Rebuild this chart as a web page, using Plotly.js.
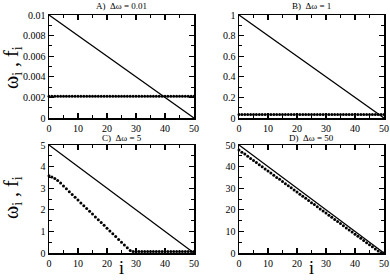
<!DOCTYPE html>
<html><head><meta charset="utf-8">
<script src="https://cdn.plot.ly/plotly-3.0.1.min.js"></script>
<style>html,body{margin:0;padding:0;background:#fff}#g{width:390px;height:280px}</style>
</head><body><div id="g"></div>
<script>
var idx = [0,1,2,3,4,5,6,7,8,9,10,11,12,13,14,15,16,17,18,19,20,21,22,23,24,25,26,27,28,29,30,31,32,33,34,35,36,37,38,39,40,41,42,43,44,45,46,47,48,49,50];
var lineX = [0, 50];
var omegaA = [0.01, 0];
var omegaB = [1, 0];
var omegaC = [5, 0];
var omegaD = [50, 0];
var fA = [0.0021,0.0021,0.0021,0.0021,0.0021,0.0021,0.0021,0.0021,0.0021,0.0021,0.0021,0.0021,0.0021,0.0021,0.0021,0.0021,0.0021,0.0021,0.0021,0.0021,0.0021,0.0021,0.0021,0.0021,0.0021,0.0021,0.0021,0.0021,0.0021,0.0021,0.0021,0.0021,0.0021,0.0021,0.0021,0.0021,0.0021,0.0021,0.0021,0.0021,0.0021,0.0021,0.0021,0.0021,0.0021,0.0021,0.0021,0.0021,0.0021,0.0021,0.0021];
var fB = [0.035,0.035,0.035,0.035,0.035,0.035,0.035,0.035,0.035,0.035,0.035,0.035,0.035,0.035,0.035,0.035,0.035,0.035,0.035,0.035,0.035,0.035,0.035,0.035,0.035,0.035,0.035,0.035,0.035,0.035,0.035,0.035,0.035,0.035,0.035,0.035,0.035,0.035,0.035,0.035,0.035,0.035,0.035,0.035,0.035,0.035,0.035,0.035,0.035,0.035,0.035];
var fC = [3.58,3.52,3.45,3.36,3.24,3.1,2.97,2.84,2.71,2.58,2.45,2.32,2.19,2.06,1.93,1.8,1.67,1.54,1.41,1.28,1.15,1.02,0.89,0.76,0.63,0.5,0.37,0.24,0.12,0.07,0.07,0.07,0.07,0.07,0.07,0.07,0.07,0.07,0.07,0.07,0.07,0.07,0.07,0.07,0.07,0.07,0.07,0.07,0.07,0.07,0.07];
var fD = [47.7,46.7,45.8,44.8,43.8,42.8,41.9,40.9,39.9,38.9,38.0,37.0,36.0,35.0,34.1,33.1,32.1,31.1,30.2,29.2,28.2,27.2,26.3,25.3,24.3,23.3,22.4,21.4,20.4,19.4,18.5,17.5,16.5,15.5,14.6,13.6,12.6,11.6,10.7,9.7,8.7,7.7,6.8,5.8,4.8,3.8,2.9,1.9,0.9,0.1,0.0];
var panelTitles = ["A)  Δω = 0.01", "B)  Δω = 1", "C)  Δω = 5", "D)  Δω = 50"];
var xTitle = "i";
var yTitle = "ω<sub>i</sub> , f<sub>i</sub>";

var omegas = [omegaA, omegaB, omegaC, omegaD];
var fs = [fA, fB, fC, fD];
var yRanges = [[0,0.01],[0,1],[0,5],[0,50]];
var yD = [0.002, 0.2, 1, 10];
var traces = [];
for (var k = 0; k < 4; k++) {
  var xa = k === 0 ? 'x' : 'x' + (k+1);
  var ya = k === 0 ? 'y' : 'y' + (k+1);
  traces.push({x: lineX, y: omegas[k], xaxis: xa, yaxis: ya, mode: 'lines',
    line: {color: '#000', width: 1.3}, showlegend: false, hoverinfo: 'skip', cliponaxis: false});
  traces.push({x: idx, y: fs[k], xaxis: xa, yaxis: ya, mode: 'markers',
    marker: {color: '#000', size: 3}, showlegend: false, hoverinfo: 'skip', cliponaxis: false});
}
var font = {family: 'Liberation Serif, Times New Roman, serif', size: 10, color: '#000'};
function xax(dom, anchor) {
  return {domain: dom, anchor: anchor, range: [0,50], dtick: 10, tick0: 0,
    ticks: 'inside', ticklen: 5, tickwidth: 1.2, tickcolor: '#000',
    minor: {dtick: 5, ticks: 'inside', ticklen: 3, tickwidth: 1, tickcolor: '#000'},
    showline: true, linecolor: '#000', linewidth: 1.5, mirror: 'allticks',
    showgrid: false, zeroline: false, tickfont: font, fixedrange: true};
}
function yax(dom, anchor, k) {
  return {domain: dom, anchor: anchor, range: yRanges[k], dtick: yD[k], tick0: 0,
    ticks: 'inside', ticklen: 5, tickwidth: 1.2, tickcolor: '#000',
    minor: {dtick: yD[k]/2, ticks: 'inside', ticklen: 3, tickwidth: 1, tickcolor: '#000'},
    showline: true, linecolor: '#000', linewidth: 1.5, mirror: 'allticks',
    showgrid: false, zeroline: false, tickfont: font, fixedrange: true};
}
var dxL = [49/390, 194/390], dxR = [239/390, 384/390];
var dyT = [1-118/280, 1-15/280], dyB = [1-253/280, 1-145/280];
var ann = [];
var tpos = [[121.5, 6], [311.5, 6], [121.5, 138], [311.5, 138]];
for (var k = 0; k < 4; k++) {
  ann.push({text: panelTitles[k], xref: 'paper', yref: 'paper', x: tpos[k][0]/390, y: 1 - tpos[k][1]/280,
    xanchor: 'center', yanchor: 'middle', showarrow: false, font: {family: font.family, size: 9, color: '#000'}});
}
ann.push({text: yTitle, xref: 'paper', yref: 'paper', x: 12/390, y: 1-68/280, textangle: -90,
  xanchor: 'center', yanchor: 'middle', showarrow: false, font: {family: font.family, size: 20, color: '#000'}});
ann.push({text: yTitle, xref: 'paper', yref: 'paper', x: 12/390, y: 1-198/280, textangle: -90,
  xanchor: 'center', yanchor: 'middle', showarrow: false, font: {family: font.family, size: 20, color: '#000'}});
ann.push({text: xTitle, xref: 'paper', yref: 'paper', x: 121.5/390, y: 1-268/280,
  xanchor: 'center', yanchor: 'middle', showarrow: false, font: {family: font.family, size: 18, color: '#000'}});
ann.push({text: xTitle, xref: 'paper', yref: 'paper', x: 311.5/390, y: 1-268/280,
  xanchor: 'center', yanchor: 'middle', showarrow: false, font: {family: font.family, size: 18, color: '#000'}});

var layout = {
  width: 390, height: 280, margin: {l: 0, r: 0, t: 0, b: 0},
  paper_bgcolor: '#fff', plot_bgcolor: '#fff', font: font, showlegend: false,
  xaxis: xax(dxL, 'y'), yaxis: yax(dyT, 'x', 0),
  xaxis2: xax(dxR, 'y2'), yaxis2: yax(dyT, 'x2', 1),
  xaxis3: xax(dxL, 'y3'), yaxis3: yax(dyB, 'x3', 2),
  xaxis4: xax(dxR, 'y4'), yaxis4: yax(dyB, 'x4', 3),
  annotations: ann
};
Plotly.newPlot('g', traces, layout, {staticPlot: true, displayModeBar: false});
</script></body></html>
